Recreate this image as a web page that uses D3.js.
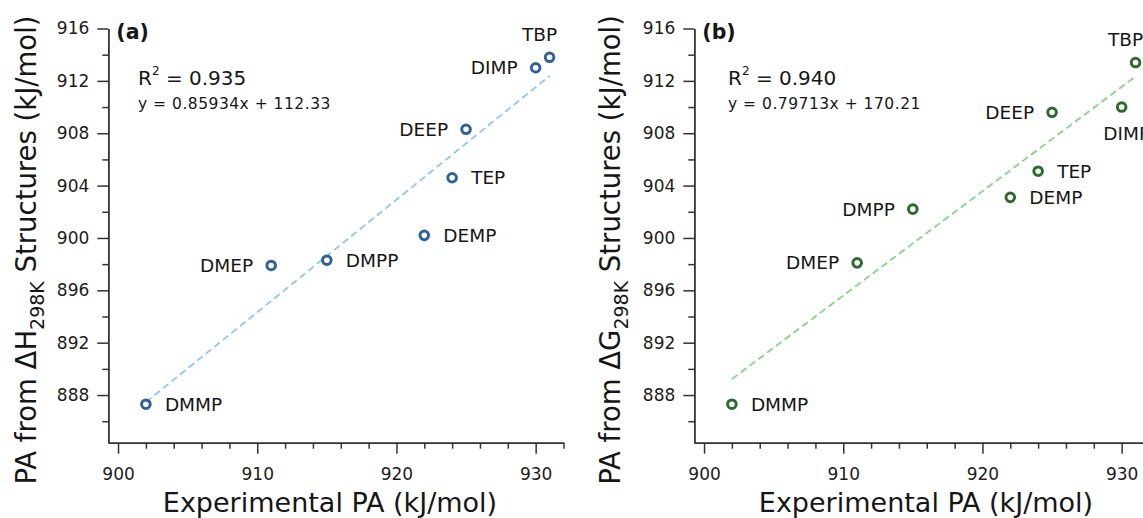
<!DOCTYPE html>
<html>
<head>
<meta charset="utf-8">
<script src="https://cdn.jsdelivr.net/npm/d3@7"></script>
<style>
  body { margin: 0; background: #fff; }
  text { font-family: "DejaVu Sans", Verdana, sans-serif; fill: #161616; }
  .axis path, .axis line { stroke: #333; stroke-width: 1.5; }
  .axis text { font-size: 17px; fill: #1c1c1c; }
</style>
</head>
<body>
<div id="graphic"></div>
<script>
const width = 1143;
const height = 518;

// data
const compounds = ['DMMP', 'DMEP', 'DMPP', 'DEMP', 'TEP', 'DEEP', 'DIMP', 'TBP'];
const experimentalPA = [902, 911, 915, 922, 924, 925, 930, 931];
const paEnthalpy = [887.3, 897.9, 898.3, 900.2, 904.6, 908.3, 913.0, 913.8];
const paGibbs = [887.3, 898.1, 902.2, 903.1, 905.1, 909.6, 910.0, 913.4];
const labelSideA = ['right', 'left', 'right', 'right', 'right', 'left', 'left', 'above'];
const labelSideB = ['right', 'left', 'left', 'right', 'right', 'left', 'below', 'above'];
const xTicks = [900, 910, 920, 930];
const yTicks = [888, 892, 896, 900, 904, 908, 912, 916];
const xMinorTicks = d3.range(902, 933, 2).filter(v => v % 10 != 0);
const yMinorTicks = d3.range(886, 916, 4);
const fitA = { slope: 0.85934, intercept: 112.33, r2: '0.935', eq: 'y = 0.85934x + 112.33' };
const fitB = { slope: 0.79713, intercept: 170.21, r2: '0.940', eq: 'y = 0.79713x + 170.21' };

const svg = d3.select('#graphic')
    .append('svg')
    .attr('width', width)
    .attr('height', height);

svg.append('rect').attr('width', width).attr('height', height).attr('fill', '#fff');

function drawPanel(p) {
    const g = svg.append('g');

    const x = d3.scaleLinear().domain([899.3, 932]).range([p.left, p.left + 455.2]);
    const y = d3.scaleLinear().domain([884.36, 916]).range([442.7, 28.5]);

    // minor ticks first, majors on top
    g.append('g').attr('class', 'axis')
        .attr('transform', `translate(0,${y.range()[0]})`)
        .call(d3.axisBottom(x).tickValues(xMinorTicks).tickSize(6).tickSizeOuter(0).tickFormat(''));
    g.append('g').attr('class', 'axis')
        .attr('transform', `translate(0,${y.range()[0]})`)
        .call(d3.axisBottom(x).tickValues(xTicks).tickSize(11).tickSizeOuter(0).tickPadding(14).tickFormat(d3.format('d')));

    g.append('g').attr('class', 'axis')
        .attr('transform', `translate(${p.left},0)`)
        .call(d3.axisLeft(y).tickValues(yMinorTicks).tickSize(6).tickSizeOuter(0).tickFormat(''));
    g.append('g').attr('class', 'axis')
        .attr('transform', `translate(${p.left},0)`)
        .call(d3.axisLeft(y).tickValues(yTicks).tickSize(11).tickSizeOuter(0).tickPadding(8).tickFormat(d3.format('d')));

    // fit line
    const x0 = d3.min(experimentalPA), x1 = d3.max(experimentalPA);
    g.append('line')
        .attr('x1', x(x0)).attr('y1', y(p.fit.slope * x0 + p.fit.intercept))
        .attr('x2', x(x1)).attr('y2', y(p.fit.slope * x1 + p.fit.intercept))
        .attr('stroke', p.lineColor)
        .attr('stroke-width', 1.7)
        .attr('stroke-dasharray', '7,4');

    // points
    g.selectAll('circle.pt')
        .data(experimentalPA)
        .enter()
        .append('circle')
        .attr('class', 'pt')
        .attr('cx', d => x(d))
        .attr('cy', (d, i) => y(p.values[i]))
        .attr('r', 4.3)
        .attr('fill', 'none')
        .attr('stroke', p.markColor)
        .attr('stroke-width', 3);

    // point labels
    g.selectAll('text.lbl')
        .data(compounds)
        .enter()
        .append('text')
        .attr('class', 'lbl')
        .attr('font-size', 18.5)
        .attr('x', (d, i) => {
            const side = p.sides[i];
            const cx = x(experimentalPA[i]);
            if (side == 'right') return cx + 19;
            if (side == 'left') return cx - 18;
            if (side == 'above') return cx - 10;
            return cx + 5;
        })
        .attr('y', (d, i) => {
            const side = p.sides[i];
            const cy = y(p.values[i]);
            if (side == 'above') return cy - 23;
            if (side == 'below') return cy + 26;
            return cy;
        })
        .attr('dy', '0.36em')
        .attr('text-anchor', (d, i) => {
            const side = p.sides[i];
            if (side == 'right') return 'start';
            if (side == 'left') return 'end';
            return 'middle';
        })
        .text(d => d);

    // panel letter and fit text
    g.append('text')
        .attr('x', p.left + 8).attr('y', 39)
        .attr('font-size', 20.5).attr('font-weight', 'bold')
        .text(p.letter);

    const r2 = g.append('text')
        .attr('x', p.textX).attr('y', 85)
        .attr('font-size', 20);
    r2.append('tspan').text('R');
    r2.append('tspan').attr('font-size', 12).attr('dy', -10).text('2');
    r2.append('tspan').attr('dy', 10).text(' = ' + p.fit.r2);

    g.append('text')
        .attr('x', p.textX).attr('y', 109)
        .attr('font-size', 15.5)
        .attr('letter-spacing', 0.5)
        .text(p.fit.eq);

    // axis titles
    g.append('text')
        .attr('x', p.xTitleX).attr('y', 512)
        .attr('text-anchor', 'middle')
        .attr('font-size', 27)
        .text('Experimental PA (kJ/mol)');

    const yt = g.append('text')
        .attr('transform', `translate(${p.yTitleX},250) rotate(-90)`)
        .attr('text-anchor', 'middle')
        .attr('font-size', 27.5);
    yt.append('tspan').text('PA from \u0394' + p.quantity);
    yt.append('tspan').attr('font-size', 19).attr('dy', 8).text('298K');
    yt.append('tspan').attr('dy', -8).text(' Structures (kJ/mol)');
}

drawPanel({
    left: 108.3, letter: '(a)', textX: 138, xTitleX: 330, yTitleX: 36,
    values: paEnthalpy, sides: labelSideA, fit: fitA, quantity: 'H',
    markColor: '#30609a', lineColor: '#86c3f7'
});

drawPanel({
    left: 694.3, letter: '(b)', textX: 728, xTitleX: 926, yTitleX: 620,
    values: paGibbs, sides: labelSideB, fit: fitB, quantity: 'G',
    markColor: '#2c6a2f', lineColor: '#7ad67c'
});
</script>
</body>
</html>
